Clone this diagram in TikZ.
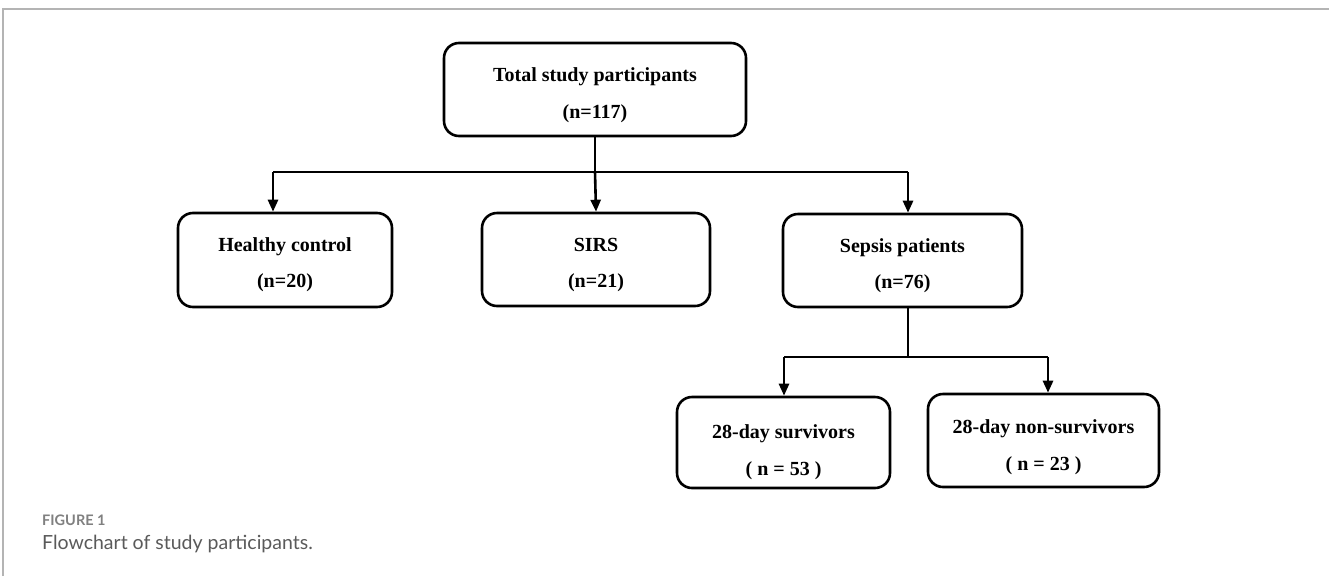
\documentclass[tikz,border=0pt]{standalone}
\usepackage{fontspec}
\setmainfont{Liberation Serif}
\newfontfamily\capfont{Lato}
\newfontfamily\capfontlight{Lato Light}
\usetikzlibrary{arrows.meta,calc}
\definecolor{framegray}{HTML}{B4B4B4}
\definecolor{capgray}{HTML}{5A5A5A}
\definecolor{figgray}{HTML}{808080}
\tikzset{
  flowbox/.style={draw=black, line width=2.6pt, rounded corners=15pt, inner sep=0pt},
  boxtext/.style={anchor=base, inner sep=0pt, font=\fontsize{20}{24}\selectfont\bfseries},
  conn/.style={line width=2.6pt},
  arr/.style={line width=2.6pt, -{Triangle[length=12pt,width=10pt]}},
}
\begin{document}
\begin{tikzpicture}[x=1pt,y=-1pt]
\useasboundingbox (0,0) rectangle (1329,576);
\fill[white] (0,0) rectangle (1329,576);
\draw[framegray, line width=2pt] (3,576) -- (3,9) -- (1329,9);

\node[flowbox, minimum width=302pt, minimum height=93pt] (top) at (595,89.5) {};
\node[flowbox, minimum width=214pt, minimum height=94pt] (healthy) at (285,260) {};
\node[flowbox, minimum width=228pt, minimum height=93pt] (sirs) at (596,259.5) {};
\node[flowbox, minimum width=239pt, minimum height=93pt] (sepsis) at (902.5,260.5) {};
\node[flowbox, minimum width=213pt, minimum height=91pt] (surv) at (783.5,442.5) {};
\node[flowbox, minimum width=231pt, minimum height=93pt] (nonsurv) at (1043.5,440.5) {};

\node[boxtext] (top1) at ($(top.north)+(0,40)$) {Total study participants};
\node[boxtext] (top2) at ($(top.north)+(0,77)$) {(n=117)};
\node[boxtext] (healthy1) at ($(healthy.north)+(0,40)$) {Healthy control};
\node[boxtext] (healthy2) at ($(healthy.north)+(0,76)$) {(n=20)};
\node[boxtext] (sirs1) at ($(sirs.north)+(0,40)$) {SIRS};
\node[boxtext] (sirs2) at ($(sirs.north)+(0,76)$) {(n=21)};
\node[boxtext] (sepsis1) at ($(sepsis.north)+(0,40)$) {Sepsis patients};
\node[boxtext] (sepsis2) at ($(sepsis.north)+(0,76)$) {(n=76)};
\node[boxtext] (surv1) at ($(surv.north)+(0,43)$) {28-day survivors};
\node[boxtext] (surv2) at ($(surv.north)+(0,80)$) {( n = 53 )};
\node[boxtext] (nonsurv1) at ($(nonsurv.north)+(0,41)$) {28-day non-survivors};
\node[boxtext] (nonsurv2) at ($(nonsurv.north)+(0,78)$) {( n = 23 )};

\coordinate (j1) at (595,172);
\coordinate (jl) at (273,172);
\coordinate (jr) at (908,172);
\coordinate (j2) at (908,357);
\coordinate (j2l) at (784,357);
\coordinate (j2r) at (1048,357);

\draw[conn] (top.south) -- (j1);
\draw[conn] (jl) -- (jr);
\draw[arr] (jl) -- (jl |- healthy.north);
\draw[arr] (j1) -- (sirs.north);
\draw[arr] (jr) -- (jr |- sepsis.north);
\draw[conn] (j2 |- sepsis.south) -- (j2);
\draw[conn] (j2l) -- (j2r);
\draw[arr] (j2l) -- (j2l |- surv.north);
\draw[arr] (j2r) -- (j2r |- nonsurv.north);

\node[anchor=base west, inner sep=0pt, text=figgray, font=\capfont\bfseries\fontsize{14.5}{16}\selectfont] (figlab) at (42,525) {FIGURE 1};
\node[anchor=base west, inner sep=0pt, text=capgray, font=\capfont\fontsize{19.5}{22}\selectfont] (caption) at (42,549) {Flowchart of study participants.};
\end{tikzpicture}
\end{document}
